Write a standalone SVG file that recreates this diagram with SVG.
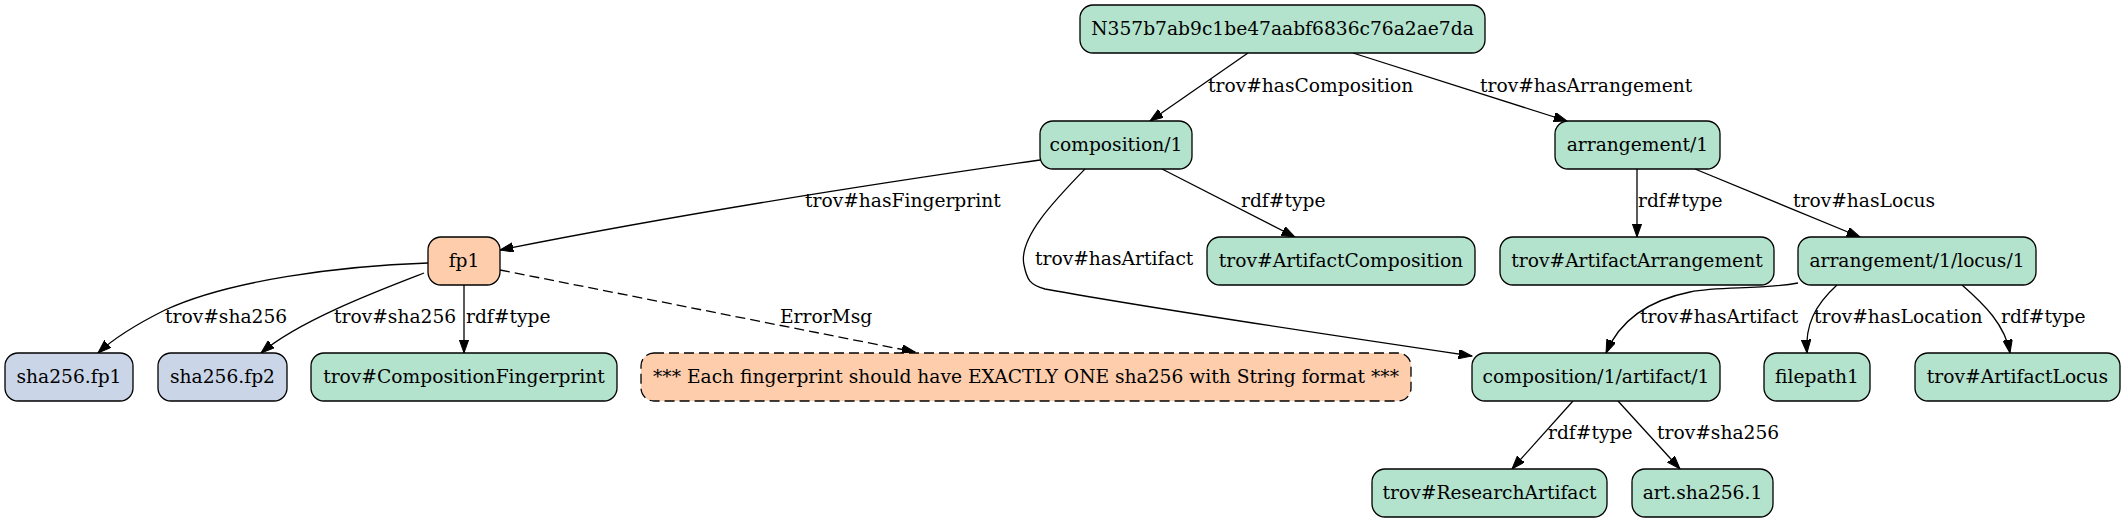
<svg xmlns="http://www.w3.org/2000/svg" width="2125" height="523" viewBox="0 0 2125 523">
<style>
.n rect{stroke:#000;stroke-width:1.3}
.g rect{fill:#b3e2cd}
.o rect{fill:#fdcdac}
.b rect{fill:#cbd5e8}
.dash rect{stroke-dasharray:10,5}
text{font-family:"DejaVu Serif","Liberation Serif",serif;font-size:18.67px;fill:#000}
.n text{text-anchor:middle}
#edges path{fill:none;stroke:#000;stroke-width:1.3}
#edges path.d{stroke-dasharray:10,5}
</style>
<defs>
<marker id="ah" markerUnits="userSpaceOnUse" markerWidth="14" markerHeight="10" refX="13.3" refY="4.7" orient="auto" viewBox="0 0 14 10">
<path d="M0,0 L13.3,4.7 L0,9.4 Z" fill="#000" stroke="#000" stroke-width="1"/>
</marker>
</defs>
<rect width="2125" height="523" fill="#fff"/>
<g id="edges">
<path d="M1248,53 L1150,121" marker-end="url(#ah)"/>
<path d="M1353,53 L1567,121" marker-end="url(#ah)"/>
<path d="M1040,160 C900,180 700,210 500,250" marker-end="url(#ah)"/>
<path d="M1162,169 L1295,237" marker-end="url(#ah)"/>
<path d="M1085,169 C1055,200 1018,238 1024,265 C1027,280 1030,285 1045,289 C1150,308 1350,338 1472,356" marker-end="url(#ah)"/>
<path d="M428,263 C340,266 230,280 165,310 C135,325 112,340 98,353" marker-end="url(#ah)"/>
<path d="M424,273 C380,290 300,320 261,353" marker-end="url(#ah)"/>
<path d="M464,285 L464,353" marker-end="url(#ah)"/>
<path class="d" d="M500,270 L915,352" marker-end="url(#ah)"/>
<path d="M1637,169 L1637,237" marker-end="url(#ah)"/>
<path d="M1695,169 L1860,237" marker-end="url(#ah)"/>
<path d="M1798,283 C1760,290 1720,286 1690,292 C1650,300 1620,320 1606,353" marker-end="url(#ah)"/>
<path d="M1837,285 C1815,305 1805,325 1807,353" marker-end="url(#ah)"/>
<path d="M1962,285 C1985,305 2005,325 2010,353" marker-end="url(#ah)"/>
<path d="M1573,401 L1512,469" marker-end="url(#ah)"/>
<path d="M1618,401 L1680,469" marker-end="url(#ah)"/>
<text x="1208" y="92">trov#hasComposition</text>
<text x="1480" y="92">trov#hasArrangement</text>
<text x="805" y="207">trov#hasFingerprint</text>
<text x="1241" y="207">rdf#type</text>
<text x="1638" y="207">rdf#type</text>
<text x="1793" y="207">trov#hasLocus</text>
<text x="1035" y="265">trov#hasArtifact</text>
<text x="165" y="323">trov#sha256</text>
<text x="334" y="323">trov#sha256</text>
<text x="466" y="323">rdf#type</text>
<text x="780" y="323">ErrorMsg</text>
<text x="1640" y="323">trov#hasArtifact</text>
<text x="1814" y="323">trov#hasLocation</text>
<text x="2001" y="323">rdf#type</text>
<text x="1548" y="439">rdf#type</text>
<text x="1657" y="439">trov#sha256</text>
</g>
<g id="n_root" class="n g"><rect x="1080" y="5" width="405" height="48" rx="13"/><text x="1282.5" y="35">N357b7ab9c1be47aabf6836c76a2ae7da</text></g>
<g id="n_comp" class="n g"><rect x="1040" y="121" width="152" height="48" rx="13"/><text x="1116" y="151">composition/1</text></g>
<g id="n_arr" class="n g"><rect x="1555" y="121" width="165" height="48" rx="13"/><text x="1637.5" y="151">arrangement/1</text></g>
<g id="n_fp1" class="n o"><rect x="428" y="237" width="72" height="48" rx="13"/><text x="464" y="267">fp1</text></g>
<g id="n_artcomp" class="n g"><rect x="1207" y="237" width="268" height="48" rx="13"/><text x="1341" y="267">trov#ArtifactComposition</text></g>
<g id="n_artarr" class="n g"><rect x="1500" y="237" width="274" height="48" rx="13"/><text x="1637" y="267">trov#ArtifactArrangement</text></g>
<g id="n_locus" class="n g"><rect x="1798" y="237" width="238" height="48" rx="13"/><text x="1917" y="267">arrangement/1/locus/1</text></g>
<g id="n_sha1" class="n b"><rect x="5" y="353" width="128" height="48" rx="13"/><text x="69" y="383">sha256.fp1</text></g>
<g id="n_sha2" class="n b"><rect x="158" y="353" width="129" height="48" rx="13"/><text x="222.5" y="383">sha256.fp2</text></g>
<g id="n_compfp" class="n g"><rect x="311" y="353" width="306" height="48" rx="13"/><text x="464" y="383">trov#CompositionFingerprint</text></g>
<g id="n_err" class="n o dash"><rect x="641" y="353" width="770" height="48" rx="13"/><text x="1026" y="383">*** Each fingerprint should have EXACTLY ONE sha256 with String format ***</text></g>
<g id="n_artifact" class="n g"><rect x="1472" y="353" width="248" height="48" rx="13"/><text x="1596" y="383">composition/1/artifact/1</text></g>
<g id="n_filepath" class="n g"><rect x="1764" y="353" width="106" height="48" rx="13"/><text x="1817" y="383">filepath1</text></g>
<g id="n_locustype" class="n g"><rect x="1915" y="353" width="205" height="48" rx="13"/><text x="2017.5" y="383">trov#ArtifactLocus</text></g>
<g id="n_resart" class="n g"><rect x="1372" y="469" width="235" height="48" rx="13"/><text x="1489.5" y="499">trov#ResearchArtifact</text></g>
<g id="n_artsha" class="n g"><rect x="1632" y="469" width="141" height="48" rx="13"/><text x="1702.5" y="499">art.sha256.1</text></g>
</svg>
